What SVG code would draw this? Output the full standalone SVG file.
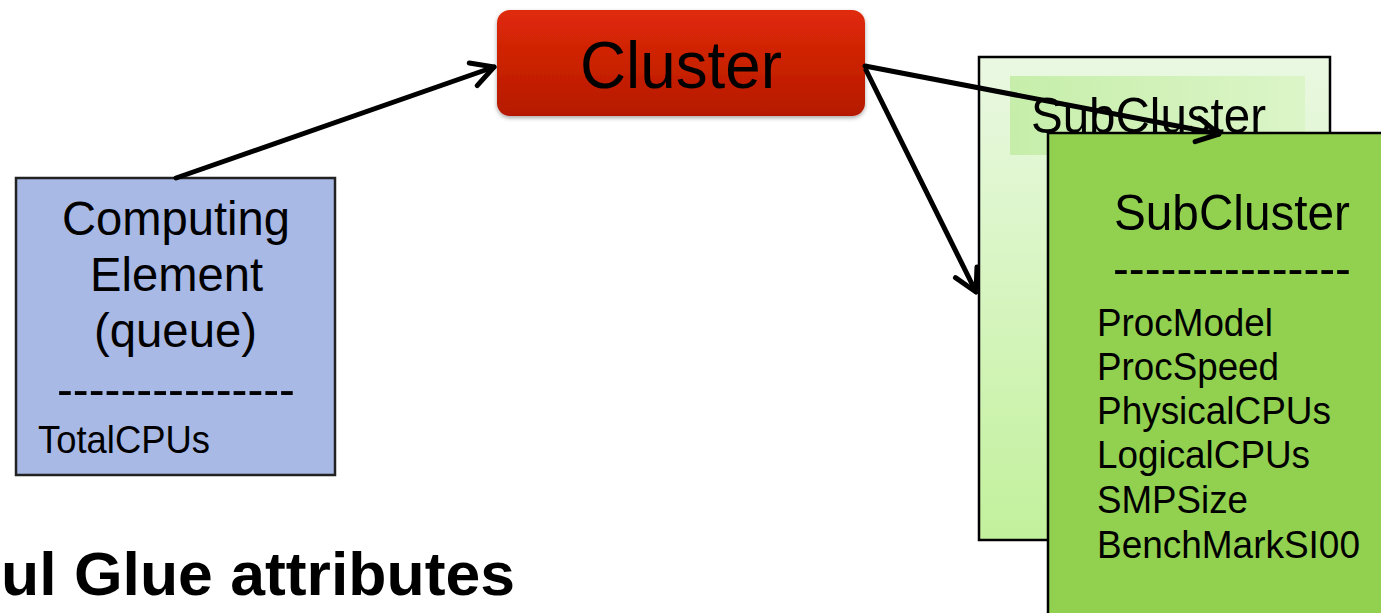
<svg xmlns="http://www.w3.org/2000/svg" width="1381" height="613" viewBox="0 0 1381 613">
<defs>
<linearGradient id="red" x1="0" y1="0" x2="0" y2="1"><stop offset="0" stop-color="#e02a08"/><stop offset="1" stop-color="#b51902"/></linearGradient>
<linearGradient id="pale" x1="0" y1="0" x2="0" y2="1"><stop offset="0" stop-color="#eaf8e2"/><stop offset="1" stop-color="#c2f19c"/></linearGradient>
<linearGradient id="hdr" x1="0" y1="0" x2="1" y2="0"><stop offset="0" stop-color="#c6eeaa"/><stop offset="1" stop-color="#dcf5c8"/></linearGradient>
<filter id="sh" x="-10%" y="-20%" width="120%" height="150%"><feDropShadow dx="0" dy="2" stdDeviation="2" flood-color="#000" flood-opacity="0.35"/></filter>
<marker id="arr" markerWidth="8" markerHeight="8" refX="6" refY="4" orient="auto" markerUnits="strokeWidth"><path d="M1.6,1.6 L6,4 L1.6,6.4" fill="none" stroke="#000" stroke-width="1" stroke-linecap="round" stroke-linejoin="round"/></marker>
</defs>
<style>
text{font-family:"Liberation Sans",Arial,sans-serif;fill:#000}
.conn{stroke:#000;stroke-width:5;fill:none;stroke-linecap:round;marker-end:url(#arr)}
.box{stroke:#000;stroke-width:2.5}
</style>
<g id="cluster">
<rect x="497" y="10" width="368" height="106" rx="13" fill="url(#red)" filter="url(#sh)"/>
<text x="580" y="88" font-size="66" textLength="202" lengthAdjust="spacingAndGlyphs">Cluster</text>
</g>
<g id="computing-element">
<rect x="16" y="178" width="319" height="297" fill="#a8b9e6" stroke="#222" stroke-width="2.5"/>
<text x="62" y="235" font-size="48" textLength="228" lengthAdjust="spacingAndGlyphs">Computing</text>
<text x="90" y="291" font-size="48" textLength="173" lengthAdjust="spacingAndGlyphs">Element</text>
<text x="94" y="347" font-size="48" textLength="163" lengthAdjust="spacingAndGlyphs">(queue)</text>
<text x="57" y="406" font-size="50" textLength="238" lengthAdjust="spacingAndGlyphs">---------------</text>
<text x="38" y="453" font-size="38" textLength="172" lengthAdjust="spacingAndGlyphs">TotalCPUs</text>
</g>
<g id="subcluster-back">
<rect x="979" y="57" width="351" height="483" fill="url(#pale)" class="box"/>
<rect x="1010" y="76" width="295" height="79" fill="url(#hdr)"/>
<text x="1031" y="133" font-size="50" textLength="235" lengthAdjust="spacingAndGlyphs">SubCluster</text>
</g>
<g id="subcluster-front">
<rect x="1048" y="133" width="345" height="500" fill="#92d050" class="box"/>
<text x="1114" y="230" font-size="50" textLength="236" lengthAdjust="spacingAndGlyphs">SubCluster</text>
<text x="1113" y="285" font-size="50" textLength="238" lengthAdjust="spacingAndGlyphs">---------------</text>
<text x="1097" y="336" font-size="38" textLength="176" lengthAdjust="spacingAndGlyphs">ProcModel</text>
<text x="1097" y="380" font-size="38" textLength="182" lengthAdjust="spacingAndGlyphs">ProcSpeed</text>
<text x="1097" y="424" font-size="38" textLength="234" lengthAdjust="spacingAndGlyphs">PhysicalCPUs</text>
<text x="1097" y="468" font-size="38" textLength="213" lengthAdjust="spacingAndGlyphs">LogicalCPUs</text>
<text x="1097" y="513" font-size="38" textLength="151" lengthAdjust="spacingAndGlyphs">SMPSize</text>
<text x="1097" y="558" font-size="38" textLength="263" lengthAdjust="spacingAndGlyphs">BenchMarkSI00</text>
</g>
<g id="connectors">
<line class="conn" x1="176" y1="178" x2="494" y2="67"/>
<line class="conn" x1="865" y1="66" x2="1219" y2="134"/>
<line class="conn" x1="866" y1="70" x2="976" y2="292"/>
</g>
<g id="title">
<text x="1" y="595" font-size="62" font-weight="bold" textLength="514" lengthAdjust="spacingAndGlyphs">ul Glue attributes</text>
</g>
</svg>
